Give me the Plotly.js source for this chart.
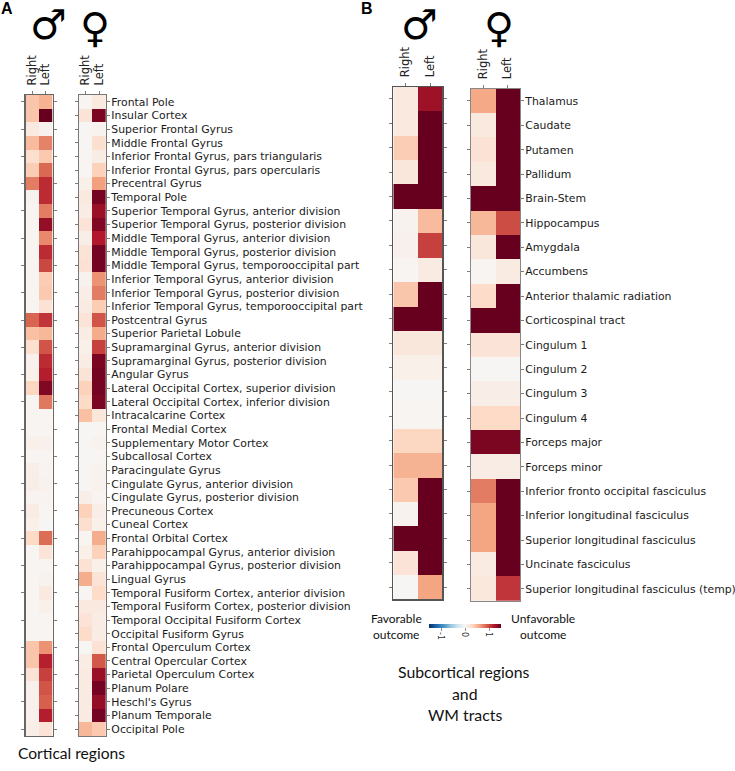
<!DOCTYPE html>
<html><head><meta charset="utf-8">
<script src="https://cdn.plot.ly/plotly-3.0.1.min.js"></script>
<style>html,body{margin:0;padding:0;background:#fff}</style></head>
<body><div id="chart" style="width:735px;height:771px"></div>
<script>
const sides = ['Right','Left'];
const corticalRegions = ['Frontal Pole','Insular Cortex','Superior Frontal Gyrus','Middle Frontal Gyrus','Inferior Frontal Gyrus, pars triangularis','Inferior Frontal Gyrus, pars opercularis','Precentral Gyrus','Temporal Pole','Superior Temporal Gyrus, anterior division','Superior Temporal Gyrus, posterior division','Middle Temporal Gyrus, anterior division','Middle Temporal Gyrus, posterior division','Middle Temporal Gyrus, temporooccipital part','Inferior Temporal Gyrus, anterior division','Inferior Temporal Gyrus, posterior division','Inferior Temporal Gyrus, temporooccipital part','Postcentral Gyrus','Superior Parietal Lobule','Supramarginal Gyrus, anterior division','Supramarginal Gyrus, posterior division','Angular Gyrus','Lateral Occipital Cortex, superior division','Lateral Occipital Cortex, inferior division','Intracalcarine Cortex','Frontal Medial Cortex','Supplementary Motor Cortex','Subcallosal Cortex','Paracingulate Gyrus','Cingulate Gyrus, anterior division','Cingulate Gyrus, posterior division','Precuneous Cortex','Cuneal Cortex','Frontal Orbital Cortex','Parahippocampal Gyrus, anterior division','Parahippocampal Gyrus, posterior division','Lingual Gyrus','Temporal Fusiform Cortex, anterior division','Temporal Fusiform Cortex, posterior division','Temporal Occipital Fusiform Cortex','Occipital Fusiform Gyrus','Frontal Operculum Cortex','Central Opercular Cortex','Parietal Operculum Cortex','Planum Polare',"Heschl's Gyrus",'Planum Temporale','Occipital Pole'];
const corticalMaleRight = [.42,.42,.15,.48,.25,.38,.78,.05,.03,.03,.03,.03,.03,.03,.03,.03,.88,.45,.25,.07,.08,.32,.03,.03,.03,.08,.03,.1,.1,.04,.12,.08,.3,.03,.03,.03,.03,.03,.03,.03,.42,.42,.22,.07,.07,.07,.1];
const corticalMaleLeft = [.52,1.5,.07,.75,.4,.86,1.12,1.12,.78,1.32,.72,1.12,1.0,.38,.4,.22,1.08,.5,.95,1.12,1.18,1.4,.8,.03,.03,.07,.03,.04,.05,.04,.03,.02,.85,.2,.03,.05,.15,.08,.03,.03,.68,1.17,1.03,.95,.9,1.18,.2];
const corticalFemaleRight = [.03,.2,.02,.02,.03,.03,.08,.15,.12,.2,.1,.2,.22,.05,.1,.13,.2,.12,.08,.12,.2,.35,.3,.45,.02,.02,.02,.02,.02,.1,.35,.25,.03,.08,.22,.55,.03,.15,.2,.28,.02,.12,.13,.13,.13,.13,.5];
const corticalFemaleLeft = [.15,1.42,.05,.25,.12,.35,.62,1.45,1.3,1.4,1.2,1.45,1.45,.68,.78,.38,.95,.56,1.03,1.42,1.45,1.45,1.42,.18,.03,.05,.03,.05,.06,.04,.1,.08,.55,.35,.08,.2,.28,.15,.12,.12,.22,.93,1.3,1.45,1.32,1.45,.4];
const subcorticalRegions = ['Thalamus','Caudate','Putamen','Pallidum','Brain-Stem','Hippocampus','Amygdala','Accumbens','Anterior thalamic radiation','Corticospinal tract','Cingulum 1','Cingulum 2','Cingulum 3','Cingulum 4','Forceps major','Forceps minor','Inferior fronto occipital fasciculus','Inferior longitudinal fasciculus','Superior longitudinal fasciculus','Uncinate fasciculus','Superior longitudinal fasciculus (temp)'];
const subMaleRight = [.15,.15,.38,.17,1.5,.05,.07,.03,.42,1.5,.17,.08,.02,.03,.32,.52,.4,.05,1.5,.2,.02];
const subMaleLeft = [1.28,1.5,1.5,1.5,1.5,.48,1.03,.13,1.5,1.5,.17,.08,.02,.03,.32,.52,1.5,1.5,1.5,1.5,.6];
const subFemaleRight = [.58,.15,.22,.15,1.5,.5,.17,.03,.28,1.5,.2,.02,.1,.3,1.42,.12,.78,.6,.6,.13,.16];
const subFemaleLeft = [1.5,1.5,1.5,1.5,1.5,.98,1.5,.13,1.5,1.5,.2,.02,.1,.3,1.42,.12,1.5,1.5,1.5,1.5,1.08];
const colorbarTicks = [-1,0,1];

const W = 735, H = 771;
const rdbu = [[0,'#053061'],[.1,'#2166ac'],[.2,'#4393c3'],[.3,'#92c5de'],[.4,'#d1e5f0'],[.5,'#f7f7f7'],[.6,'#fddbc7'],[.7,'#f4a582'],[.8,'#d6604d'],[.9,'#b2182b'],[1,'#67001f']];
const pair = (r,l) => r.map((v,i)=>[v,l[i]]);
function hm(n, labels, r, l, extra){
  return Object.assign({type:'heatmap', x:sides, y:labels, z:pair(r,l), xaxis:'x'+n, yaxis:'y'+n,
    zmin:-1.5, zmax:1.5, colorscale:rdbu, showscale:false, xgap:0, ygap:0,
    hovertemplate:'%{y} %{x}: %{z}<extra></extra>'}, extra||{});
}
const data = [
  hm(1, corticalRegions, corticalMaleRight, corticalMaleLeft),
  hm(2, corticalRegions, corticalFemaleRight, corticalFemaleLeft),
  hm(3, subcorticalRegions, subMaleRight, subMaleLeft, {showscale:true, colorbar:{
    orientation:'h', lenmode:'pixels', len:72, thicknessmode:'pixels', thickness:4,
    x:429/W, xanchor:'left', y:1-624/H, yanchor:'top', xpad:0, ypad:0, outlinewidth:0,
    tickmode:'array', tickvals:colorbarTicks, ticktext:colorbarTicks.map(String), ticks:'outside', ticklen:3, tickwidth:.6, tickcolor:'#444',
    tickangle:90, tickfont:{family:'DejaVu Sans',size:8,color:'#333'}}}),
  hm(4, subcorticalRegions, subFemaleRight, subFemaleLeft)
];
function axes(n, x0, x1, y0, y1, showLabels, lineColor, fs){
  const xa = {domain:[x0/W,x1/W], anchor:'y'+n, side:'top', type:'category', tickmode:'array', tickvals:sides, ticktext:sides, ticks:'outside', ticklen:3, tickwidth:.7, tickcolor:'#444',
    showline:true, linecolor:lineColor, linewidth:1.2, mirror:true, showgrid:false, zeroline:false, tickangle:-90,
    tickfont:{family:'DejaVu Sans',size:11.5,color:'#222'}, ticklabelstandoff:3, fixedrange:true};
  const ya = {domain:[1-y1/H,1-y0/H], anchor:'x'+n, side:'right', type:'category', autorange:'reversed', ticks:'outside', ticklen:3, tickwidth:.7, tickcolor:'#444',
    showline:true, linecolor:lineColor, linewidth:1.2, mirror:'ticks', showgrid:false, zeroline:false, showticklabels:showLabels, ticklabelstandoff:-1,
    tickfont:{family:'DejaVu Sans',size:fs,color:'#1a1a1a'}, fixedrange:true};
  return {['xaxis'+n]:xa, ['yaxis'+n]:ya};
}
const txt = (x,y,text,size,extra) => Object.assign({xref:'paper',yref:'paper',x:x/W,y:1-y/H,text,showarrow:false,
  xanchor:'center',yanchor:'middle',font:{family:'Lato',size,color:'#111'}},extra||{});
const sym = (x,y,s) => txt(x,y,s,41,{font:{family:'DejaVu Sans',size:41,color:'#000',weight:700}});
const layout = Object.assign({width:W,height:H,margin:{l:0,r:0,t:0,b:0},paper_bgcolor:'#fff',plot_bgcolor:'#fff',showlegend:false,
  annotations:[
    txt(7,9,'<b>A</b>',16,{font:{family:'Liberation Sans',size:16,color:'#000'}}),
    txt(367,9,'<b>B</b>',16,{font:{family:'Liberation Sans',size:16,color:'#000'}}),
    sym(48,25,'♂'), sym(95,28,'♀'), sym(419.5,25,'♂'), sym(499,28,'♀'),
    txt(71,753,'Cortical regions',15.6),
    txt(396,618,'Favorable',12), txt(396,634,'outcome',12),
    txt(543,618,'Unfavorable',12), txt(543,634,'outcome',12),
    txt(464,671,'Subcortical regions',15.8), txt(465,693,'and',15.8), txt(465,714,'WM tracts',15.8)
  ]},
  axes(1,25.5,52.5,95,736,false,'#666',10.85),
  axes(2,78.7,106,95,736,true,'#777',10.85),
  axes(3,393.3,442.3,86.7,599.3,false,'#555',10.85),
  axes(4,471,520,88.7,601,true,'#888',10.85));
Plotly.newPlot('chart',data,layout,{displayModeBar:false,staticPlot:true});
</script></body></html>
